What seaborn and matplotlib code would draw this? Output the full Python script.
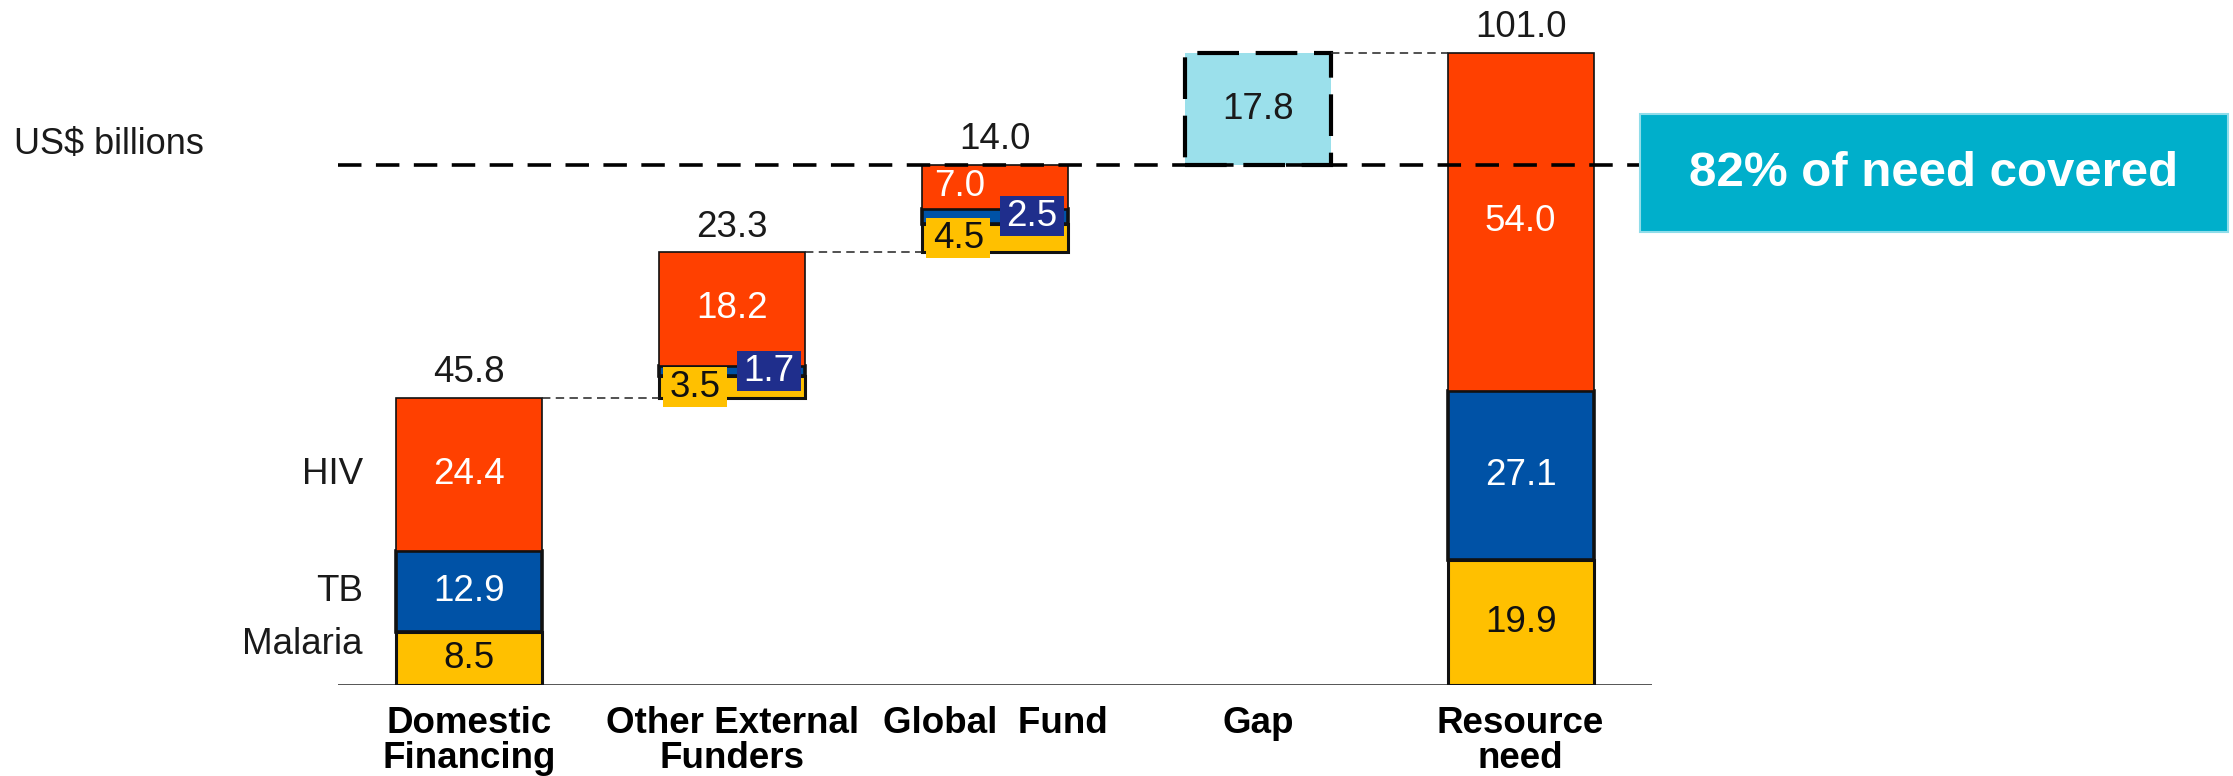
import matplotlib
matplotlib.use('Agg')
import matplotlib.pyplot as plt
from matplotlib.patches import Rectangle
import numpy as np
import seaborn as sns

# data (US$ billions)
stages = ['Domestic\nFinancing', 'Other External\nFunders', 'Global  Fund', 'Gap', 'Resource\nneed']
malaria = [8.5, 3.5, 4.5, 0.0, 19.9]
tb = [12.9, 1.7, 2.5, 0.0, 27.1]
hiv = [24.4, 18.2, 7.0, 0.0, 54.0]
totals = [45.8, 23.3, 14.0, 17.8, 101.0]
disease_names = ['Malaria', 'TB', 'HIV']
callout = '82% of need covered'

# style
HIV_C = '#FF4000'
TB_C = '#0052A6'
TB_BOX = '#1F2E8C'
MAL_C = '#FFC000'
GAP_C = '#9BE0EB'
CALLOUT_C = '#00AFCB'
BAR_W = 0.556
W, H = 2233, 776
FS = 26.5

sns.set_theme(style='white')
plt.rcParams['font.family'] = ['Liberation Sans', 'DejaVu Sans']

fig = plt.figure(figsize=(W / 100, H / 100), dpi=100)
ax = fig.add_axes([338 / W, 91 / H, 1314 / W, 676 / H])

# waterfall bases: funders stack up to the gap, resource need starts at 0
bases = [0.0]
for t in totals[:3]:
    bases.append(bases[-1] + t)
bases.append(0.0)
bases = np.array(bases)

stage_arr = np.array(stages)
stack = bases.copy()
layers = [(malaria, MAL_C, 2.2), (tb, TB_C, 2.6), (hiv, HIV_C, 1.2)]
seg_info = []
for vals, col, lw in layers:
    vals = np.array(vals)
    keep = vals > 0
    sns.barplot(x=stage_arr[keep], y=vals[keep], order=stages, bottom=stack[keep],
                color=col, saturation=1, width=BAR_W, edgecolor='#111111',
                linewidth=lw, errorbar=None, ax=ax, zorder=2)
    seg_info.append((vals, stack.copy()))
    stack = stack + vals

# gap bar
sns.barplot(x=[stages[3]], y=[totals[3]], order=stages, bottom=[bases[3]],
            color=GAP_C, saturation=1, width=BAR_W, edgecolor='black',
            linewidth=3, linestyle=(0, (10, 4)), errorbar=None, ax=ax, zorder=2)

ax.set_xlim(-0.5, 4.5)
ax.set_ylim(0, 108)
ax.set_yticks([])
for s in ax.spines.values():
    s.set_visible(False)
ax.axhline(0, color='#555555', lw=1.4, zorder=1)

ax.set_xticks(range(len(stages)))
ax.set_xticklabels(stages, fontsize=26.5, fontweight='bold', linespacing=1.02, color='black')
ax.tick_params(axis='x', length=0, pad=15)
ax.set_xlabel('')
ax.set_ylabel('')

# connectors
half = BAR_W / 2
for i in range(2):
    y = bases[i] + totals[i]
    ax.plot([i + half, i + 1 - half], [y, y], color='#222222', lw=1.1,
            dashes=(5.5, 3.5), zorder=3)
y_gap_top = bases[3] + totals[3]
ax.plot([3 + half, 4 - half], [y_gap_top, y_gap_top], color='#222222', lw=1.1,
        dashes=(5.5, 3.5), zorder=3)
ax.plot([-0.5, 4.5], [bases[3], bases[3]], color='black', lw=2.6,
        dashes=(6.5, 4), zorder=4)

# totals above bars
for i, t in enumerate(totals):
    if i == 3:
        ax.text(i, bases[i] + t / 2, f'{t:.1f}', ha='center', va='center',
                fontsize=FS, color='#1a1a1a', zorder=5)
    else:
        ax.annotate(f'{t:.1f}', xy=(i, bases[i] + t), xytext=(0, 11.5),
                    textcoords='offset points', ha='center', va='baseline',
                    fontsize=FS, color='#1a1a1a')

# segment labels
text_cols = ['#111111', 'white', 'white']
box_cols = [MAL_C, TB_BOX, None]
box_dx = [-0.14, 0.14, -0.133]
bw, bh = 64 / 262.75, 40 / 6.26
for k, (vals, bottoms) in enumerate(seg_info):
    for i, v in enumerate(vals):
        if v <= 0:
            continue
        yc = bottoms[i] + v / 2
        small = totals[i] < 30 and v < 10
        if small:
            xc = i + box_dx[k]
            if box_cols[k] is not None:
                ax.add_patch(Rectangle((xc - bw / 2, yc - bh / 2), bw, bh,
                                       facecolor=box_cols[k], edgecolor='none', zorder=5))
            ax.text(xc, yc, f'{v:.1f}', ha='center', va='center', fontsize=FS,
                    color=text_cols[k], zorder=6)
        else:
            ax.text(i, yc, f'{v:.1f}', ha='center', va='center', fontsize=FS,
                    color=text_cols[k], zorder=6)

# disease labels left of first bar
label_y = [6.5, bases[0] + malaria[0] + tb[0] / 2, bases[0] + malaria[0] + tb[0] + hiv[0] / 2]
for name, y in zip(disease_names, label_y):
    ax.text(-0.405, y, name, ha='right', va='center', fontsize=FS, color='#1a1a1a')

fig.text(14 / W, 1 - 144 / H, 'US$ billions', ha='left', va='center', fontsize=26,
         color='#1a1a1a')

# callout box
fig.patches.append(Rectangle((1640 / W, 1 - 232 / H), 588 / W, 118 / H,
                             transform=fig.transFigure, facecolor=CALLOUT_C,
                             edgecolor='#8FDDEA', lw=1.5, zorder=5))
fig.text(1934 / W, 1 - 173 / H, callout, ha='center', va='center', fontsize=35.5,
         fontweight='bold', color='white', zorder=6)

fig.savefig('out.png', dpi=100, facecolor='white')
